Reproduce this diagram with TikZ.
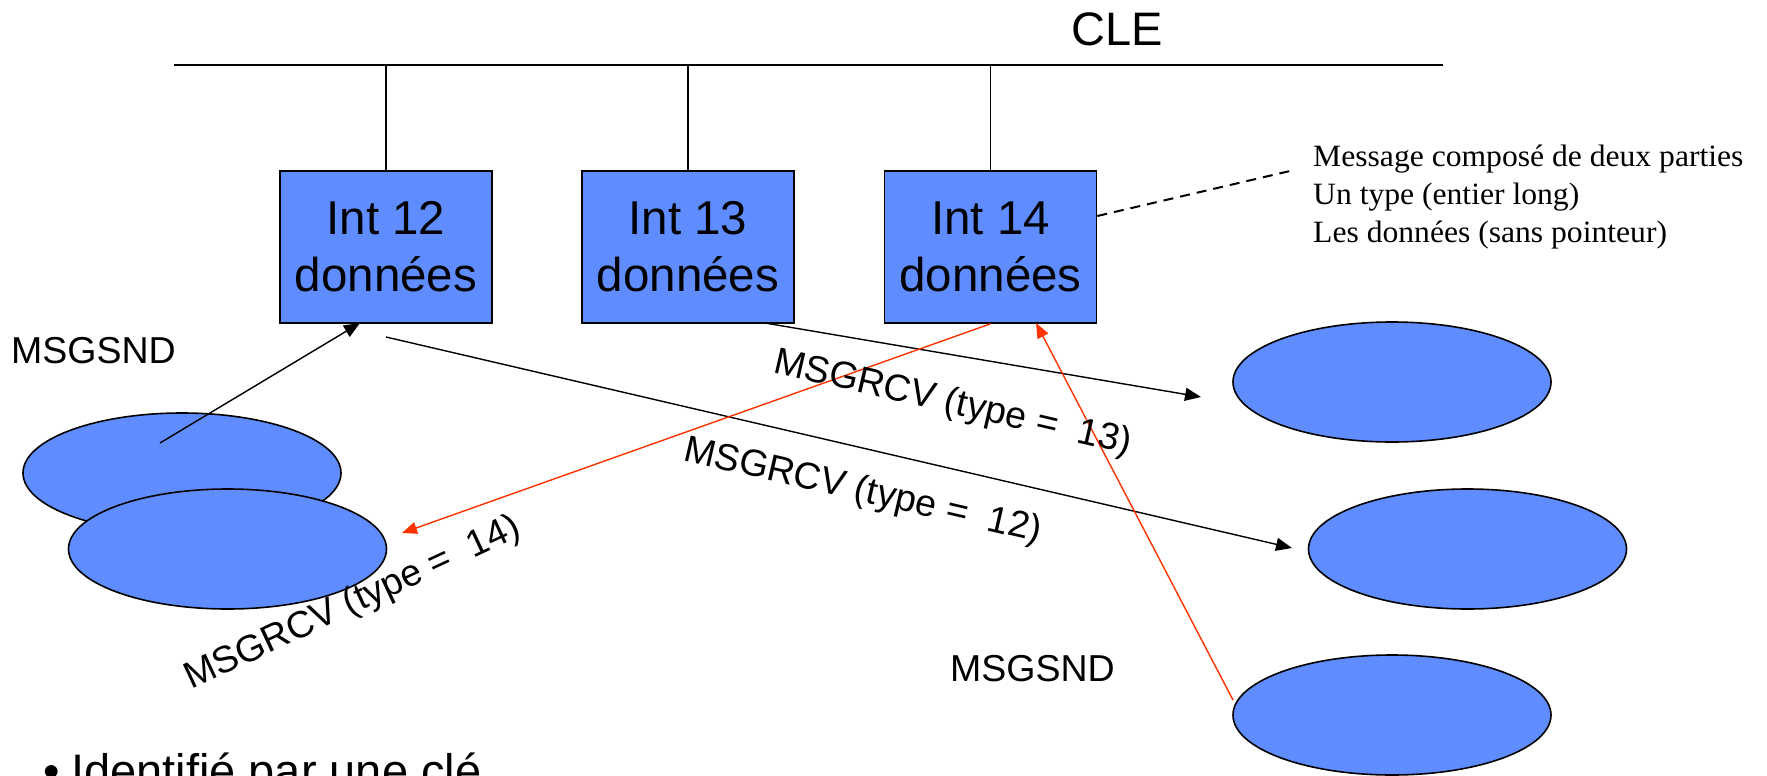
\documentclass[tikz,border=0pt]{standalone}
\usepackage{fontspec}
\setmainfont{Liberation Sans}
\newfontfamily\notefont{Liberation Serif}
\usetikzlibrary{shapes.geometric,arrows.meta,calc}
\definecolor{procblue}{HTML}{5F8DFF}
\definecolor{sndred}{HTML}{FF3300}
\begin{document}
\begin{tikzpicture}[x=1pt,y=-1pt,
  queuebox/.style={draw=black,line width=1.6pt,fill=procblue,minimum width=212pt,
    minimum height=152pt,inner sep=0pt,align=center,font=\fontsize{47.5}{57}\selectfont},
  proc/.style={ellipse,draw=black,line width=1.6pt,fill=procblue,minimum width=318pt,
    minimum height=120pt,inner sep=0pt},
  lbl/.style={font=\fontsize{37.5}{45}\selectfont,inner sep=0pt},
  biglbl/.style={font=\fontsize{47}{57}\selectfont,inner sep=0pt},
  note/.style={font=\notefont\fontsize{31}{37}\selectfont,inner sep=0pt,anchor=base west},
  blackarrow/.style={line width=1.4pt,-{Triangle[length=16pt,width=13pt]}},
  redarrow/.style={draw=sndred,line width=1.4pt,-{Triangle[length=15pt,width=12pt]},sndred}
]
\useasboundingbox (0,0) rectangle (1767,776);
\fill[white] (0,0) rectangle (1767,776);

% key bus
\coordinate (busL) at (174,65);
\coordinate (busR) at (1443,65);
\draw[line width=2pt] (busL) -- (busR);
\node[biglbl,anchor=base] (cle) at (1117,46) {CLE};

% message queues
\node[queuebox] (q12) at (386,247) {Int 12\\données};
\node[queuebox] (q13) at (688,247) {Int 13\\données};
\node[queuebox] (q14) at (990.5,247) {Int 14\\données};
\foreach \q in {q12,q13,q14}
  \draw[line width=1.2pt] (\q.north) -- (\q.north |- busL);

% processes
\node[proc] (p1) at (182,473) {};
\node[proc] (p2) at (227.5,549) {};
\node[proc] (pa) at (1392,382) {};
\node[proc] (pb) at (1467.5,549) {};
\node[proc] (pc) at (1392,715) {};

% arrow end points
\coordinate (s1) at (160,443);
\coordinate (t12in) at (360,323);
\coordinate (r12s) at (386,337);
\coordinate (r12e) at (1292,548);
\coordinate (r13s) at (765,323);
\coordinate (r13e) at (1201,397);
\coordinate (r14e) at (402,533);
\coordinate (s14s) at (1233,700);
\coordinate (t14in) at (1036,323);
\coordinate (noteend) at (1290,171);

% sends and receives
\draw[blackarrow] (s1) -- (t12in);
\draw[blackarrow] (r12s) -- (r12e);
\draw[blackarrow] (r13s) -- (r13e);
\draw[redarrow] (q14.south) -- (r14e);
\draw[redarrow] (s14s) -- (t14in);

% labels
\node[lbl,anchor=base west] (snd1) at (11,363) {MSGSND};
\node[lbl,anchor=base west] (snd2) at (950,681) {MSGSND};
\node[lbl,anchor=base west,rotate=-13] (l13) at (772,372) {MSGRCV (type =~ 13)};
\node[lbl,anchor=base west,rotate=-13] (l12) at (682,460) {MSGRCV (type =~ 12)};
\node[lbl,anchor=base west,rotate=25] (l14) at (191,690) {MSGRCV (type =~ 14)};

% message description
\draw[line width=2pt,dash pattern=on 10pt off 7pt] (q14.east |- 0,216) -- (noteend);
\node[note] (n1) at (1313,166) {\scalebox{1.02}[1]{Message composé de deux parties}};
\node[note] (n2) at (1313,204) {\scalebox{1.02}[1]{Un type (entier long)}};
\node[note] (n3) at (1313,242) {\scalebox{1.02}[1]{Les données (sans pointeur)}};

% bullet line
\node[biglbl,anchor=base west] (bullet) at (43,787) {•\hspace{11.5pt}Identifié par une clé};
\end{tikzpicture}
\end{document}
